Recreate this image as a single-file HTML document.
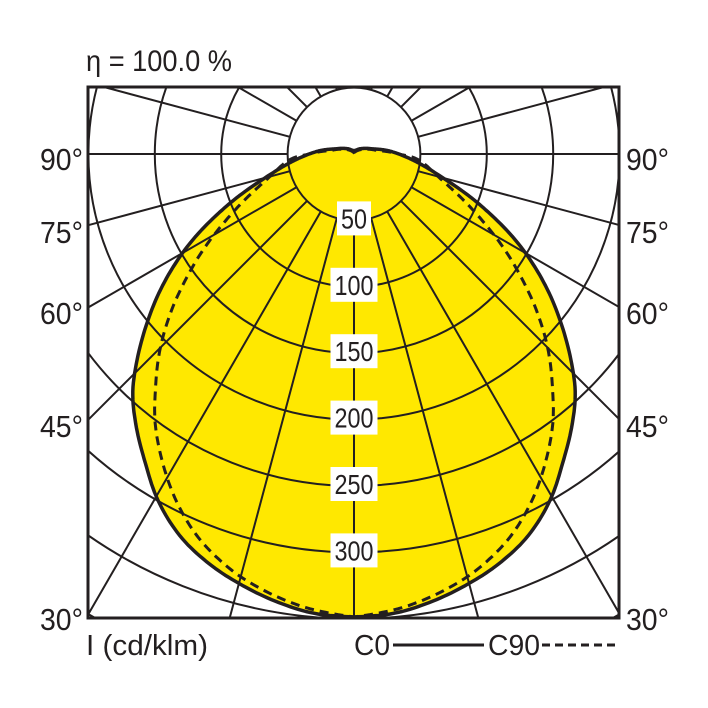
<!DOCTYPE html>
<html><head><meta charset="utf-8"><style>
html,body{margin:0;padding:0;background:#fff;overflow:hidden;width:708px;height:708px;}
svg{display:block;position:absolute;left:0;top:0;}
text{font-family:"Liberation Sans Narrow","Liberation Sans",sans-serif;fill:#231f20;}
</style></head><body>
<svg id="s" width="708" height="708" viewBox="0 0 708 708" xmlns="http://www.w3.org/2000/svg">
<defs><clipPath id="bx"><rect x="88" y="87" width="531" height="531"/></clipPath></defs>
<g id="fillg"></g>
<g id="grid" clip-path="url(#bx)" stroke="#231f20" stroke-width="2" fill="none"></g>
<g id="curves" fill="none" stroke="#231f20" stroke-linejoin="round"></g>
<rect x="88" y="87" width="531" height="531" fill="none" stroke="#231f20" stroke-width="3"/>
<g id="lab"></g>
<text x="86" y="71" font-size="30" textLength="146" lengthAdjust="spacingAndGlyphs">η = 100.0 %</text>
<text x="40" y="170" font-size="31" textLength="43" lengthAdjust="spacingAndGlyphs">90°</text>
<text x="40" y="243" font-size="31" textLength="43" lengthAdjust="spacingAndGlyphs">75°</text>
<text x="40" y="324" font-size="31" textLength="43" lengthAdjust="spacingAndGlyphs">60°</text>
<text x="40" y="437" font-size="31" textLength="43" lengthAdjust="spacingAndGlyphs">45°</text>
<text x="40" y="630" font-size="31" textLength="43" lengthAdjust="spacingAndGlyphs">30°</text>
<text x="626" y="170" font-size="31" textLength="43" lengthAdjust="spacingAndGlyphs">90°</text>
<text x="626" y="243" font-size="31" textLength="43" lengthAdjust="spacingAndGlyphs">75°</text>
<text x="626" y="324" font-size="31" textLength="43" lengthAdjust="spacingAndGlyphs">60°</text>
<text x="626" y="437" font-size="31" textLength="43" lengthAdjust="spacingAndGlyphs">45°</text>
<text x="626" y="630" font-size="31" textLength="43" lengthAdjust="spacingAndGlyphs">30°</text>
<text x="86" y="655" font-size="29" textLength="122" lengthAdjust="spacingAndGlyphs">I (cd/klm)</text>
<text x="354" y="655" font-size="29" textLength="36" lengthAdjust="spacingAndGlyphs">C0</text>
<line x1="393" y1="645" x2="484" y2="645" stroke="#231f20" stroke-width="3"/>
<text x="488" y="655" font-size="29" textLength="52" lengthAdjust="spacingAndGlyphs">C90</text>
<line x1="542" y1="645" x2="618" y2="645" stroke="#231f20" stroke-width="3" stroke-dasharray="8,5"/>
</svg>
<script>
var NS="http://www.w3.org/2000/svg",cx=354,cy=154,R=66.4;
function el(t,a,p){var e=document.createElementNS(NS,t);for(var k in a)e.setAttribute(k,a[k]);p.appendChild(e);return e;}
function interp(P,x){
 var n=P.length;for(var i=0;i<n-1;i++){if(x<=P[i+1][0])break;} if(i>=n-1)i=n-2;
 function m(j){if(j<=0)return (P[1][1]-P[0][1])/(P[1][0]-P[0][0]);if(j>=n-1)return (P[n-1][1]-P[n-2][1])/(P[n-1][0]-P[n-2][0]);
  return (P[j+1][1]-P[j-1][1])/(P[j+1][0]-P[j-1][0]);}
 var x0=P[i][0],x1=P[i+1][0],h=x1-x0,t=(x-x0)/h,y0=P[i][1],y1=P[i+1][1],m0=m(i)*h,m1=m(i+1)*h;
 var t2=t*t,t3=t2*t;return (2*t3-3*t2+1)*y0+(t3-2*t2+t)*m0+(-2*t3+3*t2)*y1+(t3-t2)*m1;}
function curve(P){var pts=[];for(var a=-180;a<=180;a+=0.5){var aa=Math.abs(a),r=interp(P,aa),t=a*Math.PI/180;
 pts.push((cx+r*Math.sin(t)).toFixed(1)+","+(cy+r*Math.cos(t)).toFixed(1));}return "M"+pts.join(" L")+"Z";}
var solid=[[0,463],[5,461],[9.4,455],[14.8,445],[19.3,435],[24.4,420],[29.5,398],[34.2,372],[38.6,349],[42.9,325],[46.5,299],[50.8,267],[55,236],[60,198],[68,136],[75,92],[83.5,61],[93,39],[107,18],[140,6],[180,3]];
var dash=[[0,463],[6.8,455],[14.1,440],[18.2,428],[22.3,413],[26.9,391],[32,362],[36.7,333],[40,309],[44.7,276],[48.8,245],[54.9,198],[64,136],[73.4,92],[86.2,61],[90,45],[100,22],[130,6],[180,1]];
var dS=curve(solid);
el("path",{d:dS,fill:"#ffe800",stroke:"none"},document.getElementById("fillg"));
var g=document.getElementById("grid");
for(var k=1;k<=8;k++)el("circle",{cx:cx,cy:cy,r:R*k},g);
for(var a=0;a<360;a+=15){var t=a*Math.PI/180;el("line",{x1:cx+R*Math.sin(t),y1:cy+R*Math.cos(t),x2:cx+900*Math.sin(t),y2:cy+900*Math.cos(t)},g);}
var c=document.getElementById("curves");
el("path",{d:dS,"stroke-width":"3.5"},c);
el("path",{d:curve(dash),"stroke-width":"3","stroke-dasharray":"9,6"},c);
var lab=document.getElementById("lab"),vals=[50,100,150,200,250,300];
for(var i=0;i<6;i++){var y=cy+R*(i+1)-2,s=String(vals[i]),w=s.length*13+8;
el("rect",{x:cx-w/2,y:y-17,width:w,height:34,fill:"#fff"},lab);
var t=el("text",{x:cx,y:y+10,"font-size":"28","text-anchor":"middle",textLength:s.length*13,lengthAdjust:"spacingAndGlyphs"},lab);t.textContent=s;}
</script>
</body></html>
